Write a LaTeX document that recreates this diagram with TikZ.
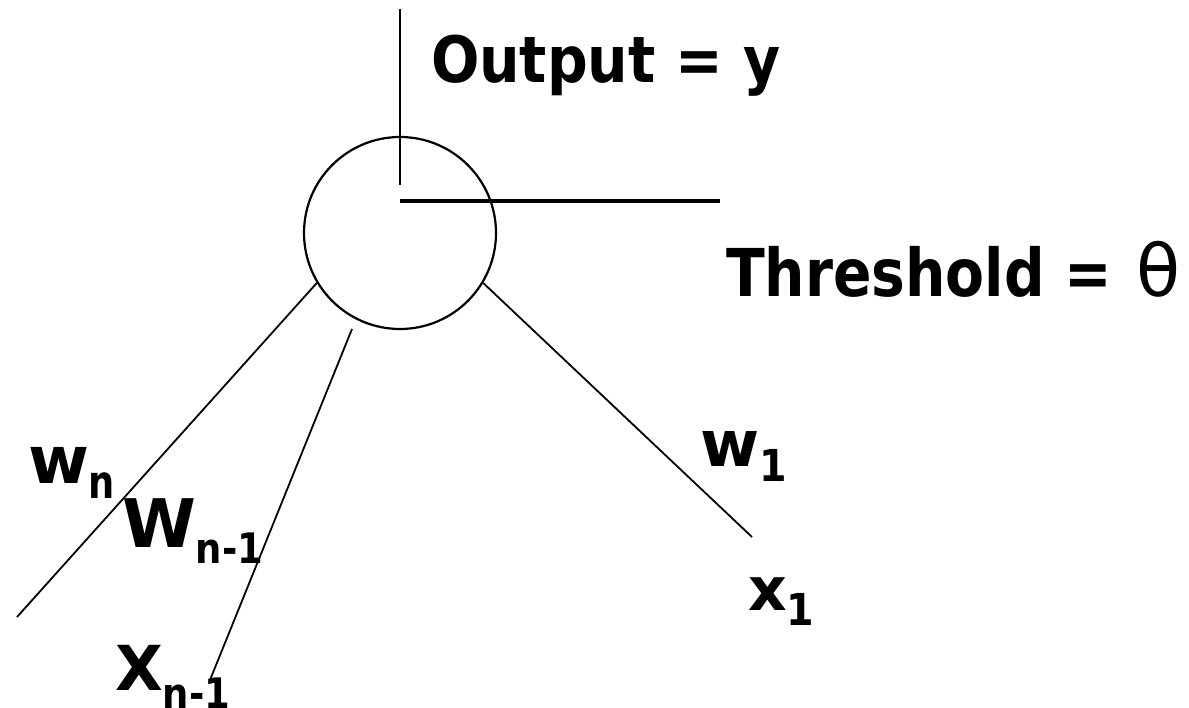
\documentclass[tikz,border=0pt]{standalone}
\usepackage{fontspec}
\setmainfont{DejaVu Sans}
\newcommand{\lbl}[1]{\fontsize{#1}{#1}\selectfont\bfseries}
\newcommand{\mysub}[4]{\raisebox{-#2pt}{\fontsize{#1}{#1}\selectfont\bfseries\scalebox{#4}[1]{#3}}}
\begin{document}
\begin{tikzpicture}[x=1pt,y=-1pt,
  txt/.style={inner sep=0pt, outer sep=0pt, anchor=base west},
  thin line/.style={line width=1.8pt, black},
  mid line/.style={line width=2.4pt, black},
  thick line/.style={line width=3.2pt, black}]
\useasboundingbox (0,0) rectangle (1189,708);
\fill[white] (0,0) rectangle (1189,708);
% neuron
\node[circle, draw, line width=2.2pt, minimum size=192pt, inner sep=0pt] (neuron) at (400,233) {};
% output and threshold lines
\coordinate (outtop) at (400,9);
\coordinate (outbot) at (400,185);
\coordinate (thl) at (400,201);
\coordinate (thr) at (720,201);
\draw[mid line] (outtop) -- (outbot);
\draw[thick line] (thl) -- (thr);
% input lines
\coordinate (xn) at (17,617);
\coordinate (xnm1top) at (352,329);
\coordinate (xnm1) at (210,680);
\coordinate (x1) at (752,537);
\draw[thin line] (neuron.211) -- (xn);
\draw[thin line] (xnm1top) -- (xnm1);
\draw[thin line] (neuron.329) -- (x1);
% labels
\node[txt] (lout) at (431,83) {\lbl{64}\scalebox{0.89}[1]{Output = y}};
\node[txt] (lth) at (726,297) {\lbl{66}\scalebox{0.86}[1]{Threshold =}\hspace{24pt}{\mdseries\fontsize{72}{72}\selectfont θ}};
\node[txt] (lwn) at (28,483) {\lbl{66}w\mysub{46}{15}{n}{0.8}};
\node[txt] (lwnm1) at (122,547) {\lbl{67}W\mysub{42}{16}{n-1}{0.88}};
\node[txt] (lxnm1) at (115,690) {\lbl{62}X\mysub{42}{18}{n-1}{0.88}};
\node[txt] (lw1) at (700,467) {\lbl{64}w\mysub{44}{15}{1}{0.9}};
\node[txt] (lx1) at (748,610) {\lbl{60}x\mysub{44}{15}{1}{0.9}};
\end{tikzpicture}
\end{document}
